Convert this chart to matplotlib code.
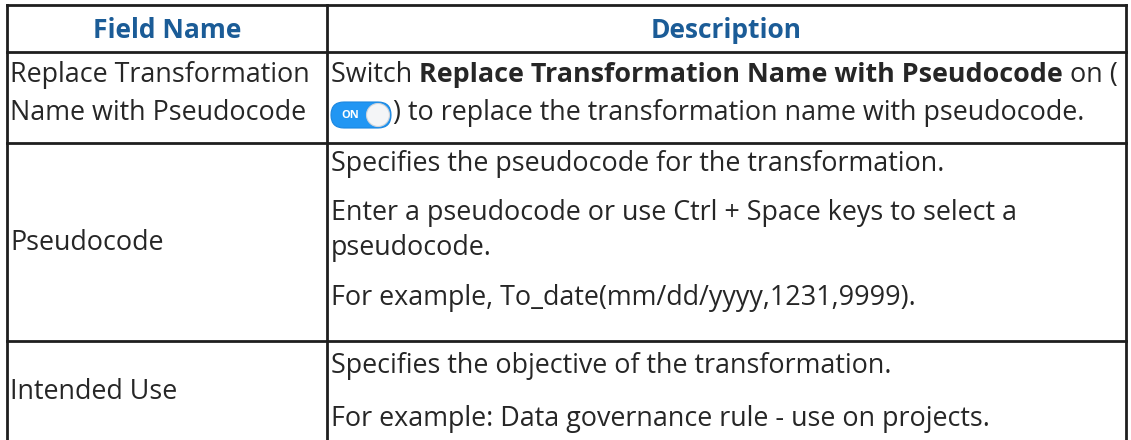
import matplotlib
matplotlib.use("Agg")
import matplotlib.pyplot as plt
from matplotlib.patches import FancyBboxPatch, Circle

plt.rcParams["font.family"] = ["Open Sans", "DejaVu Sans"]

HEADERS = ["Field Name", "Description"]
FIELD_NAMES = [
    ["Replace Transformation", "Name with Pseudocode"],
    ["Pseudocode"],
    ["Intended Use"],
]
# each description line is a list of (text, bold) runs
DESCRIPTIONS = [
    [
        [("Switch ", False), ("Replace Transformation Name with Pseudocode", True), (" on (", False)],
        [("TOGGLE", False), (") to replace the transformation name with pseudocode.", False)],
    ],
    [
        [("Specifies the pseudocode for the transformation.", False)],
        [("Enter a pseudocode or use Ctrl + Space keys to select a", False)],
        [("pseudocode.", False)],
        [("For example, To_date(mm/dd/yyyy,1231,9999).", False)],
    ],
    [
        [("Specifies the objective of the transformation.", False)],
        [("For example: Data governance rule - use on projects.", False)],
    ],
]

# layout in pixels
W, H = 1131, 440
X_LEFT, X_MID, X_RIGHT = 7, 327, 1126
Y_TOP, Y_HEAD, ROW_BOTTOMS = 5, 52, [143, 341]
FIELD_BASE = [[82, 120], [250], [399]]
DESC_BASE = [[82, 120], [171, 220, 255, 305], [373, 426]]

HEAD_COLOR = "#1b5c97"
TEXT_COLOR = "#262626"
LINE_COLOR = "#1e1e1e"
FS = 19.4
HFS = 19.0

fig = plt.figure(figsize=(W / 100, H / 100), dpi=100)
ax = fig.add_axes([0, 0, 1, 1])
ax.set_xlim(0, W)
ax.set_ylim(H, 0)
ax.axis("off")

lw = 2.0
for x in (X_LEFT, X_MID, X_RIGHT):
    ax.plot([x, x], [Y_TOP, H + 5], color=LINE_COLOR, lw=lw, solid_capstyle="projecting")
for y in [Y_TOP, Y_HEAD] + ROW_BOTTOMS:
    ax.plot([X_LEFT, X_RIGHT], [y, y], color=LINE_COLOR, lw=lw, solid_capstyle="projecting")

ax.text((X_LEFT + X_MID) / 2, 38, HEADERS[0], ha="center", va="baseline",
        fontsize=HFS, fontweight="bold", color=HEAD_COLOR)
ax.text((X_MID + X_RIGHT) / 2, 38, HEADERS[1], ha="center", va="baseline",
        fontsize=HFS, fontweight="bold", color=HEAD_COLOR)

for lines, bases in zip(FIELD_NAMES, FIELD_BASE):
    for txt, yb in zip(lines, bases):
        ax.text(X_LEFT + 3, yb, txt, ha="left", va="baseline", fontsize=FS, color=TEXT_COLOR)

fig.canvas.draw()
renderer = fig.canvas.get_renderer()


def draw_toggle(x, yb):
    y0, h, w = yb - 18, 26, 60
    pill = FancyBboxPatch((x, y0), w, h, boxstyle="round,pad=0,rounding_size=13",
                          fc="#2196f3", ec="#1a86e0", lw=0.8)
    ax.add_patch(pill)
    ax.add_patch(Circle((x + w - 13, y0 + h / 2), 11.5, fc="#f4f5f7", ec="#d0d4da", lw=0.8))
    ax.text(x + 19, y0 + h / 2 + 1, "ON", ha="center", va="center", fontsize=8,
            fontweight="bold", color="white")
    return x + w + 2


for para, bases in zip(DESCRIPTIONS, DESC_BASE):
    for runs, yb in zip(para, bases):
        x = X_MID + 4
        for txt, bold in runs:
            if txt == "TOGGLE":
                x = draw_toggle(x, yb)
                continue
            t = ax.text(x, yb, txt, ha="left", va="baseline", fontsize=FS, color=TEXT_COLOR,
                        fontweight="bold" if bold else "normal")
            bb = t.get_window_extent(renderer)
            x += bb.width

fig.savefig("out.png", dpi=100, facecolor="white")
